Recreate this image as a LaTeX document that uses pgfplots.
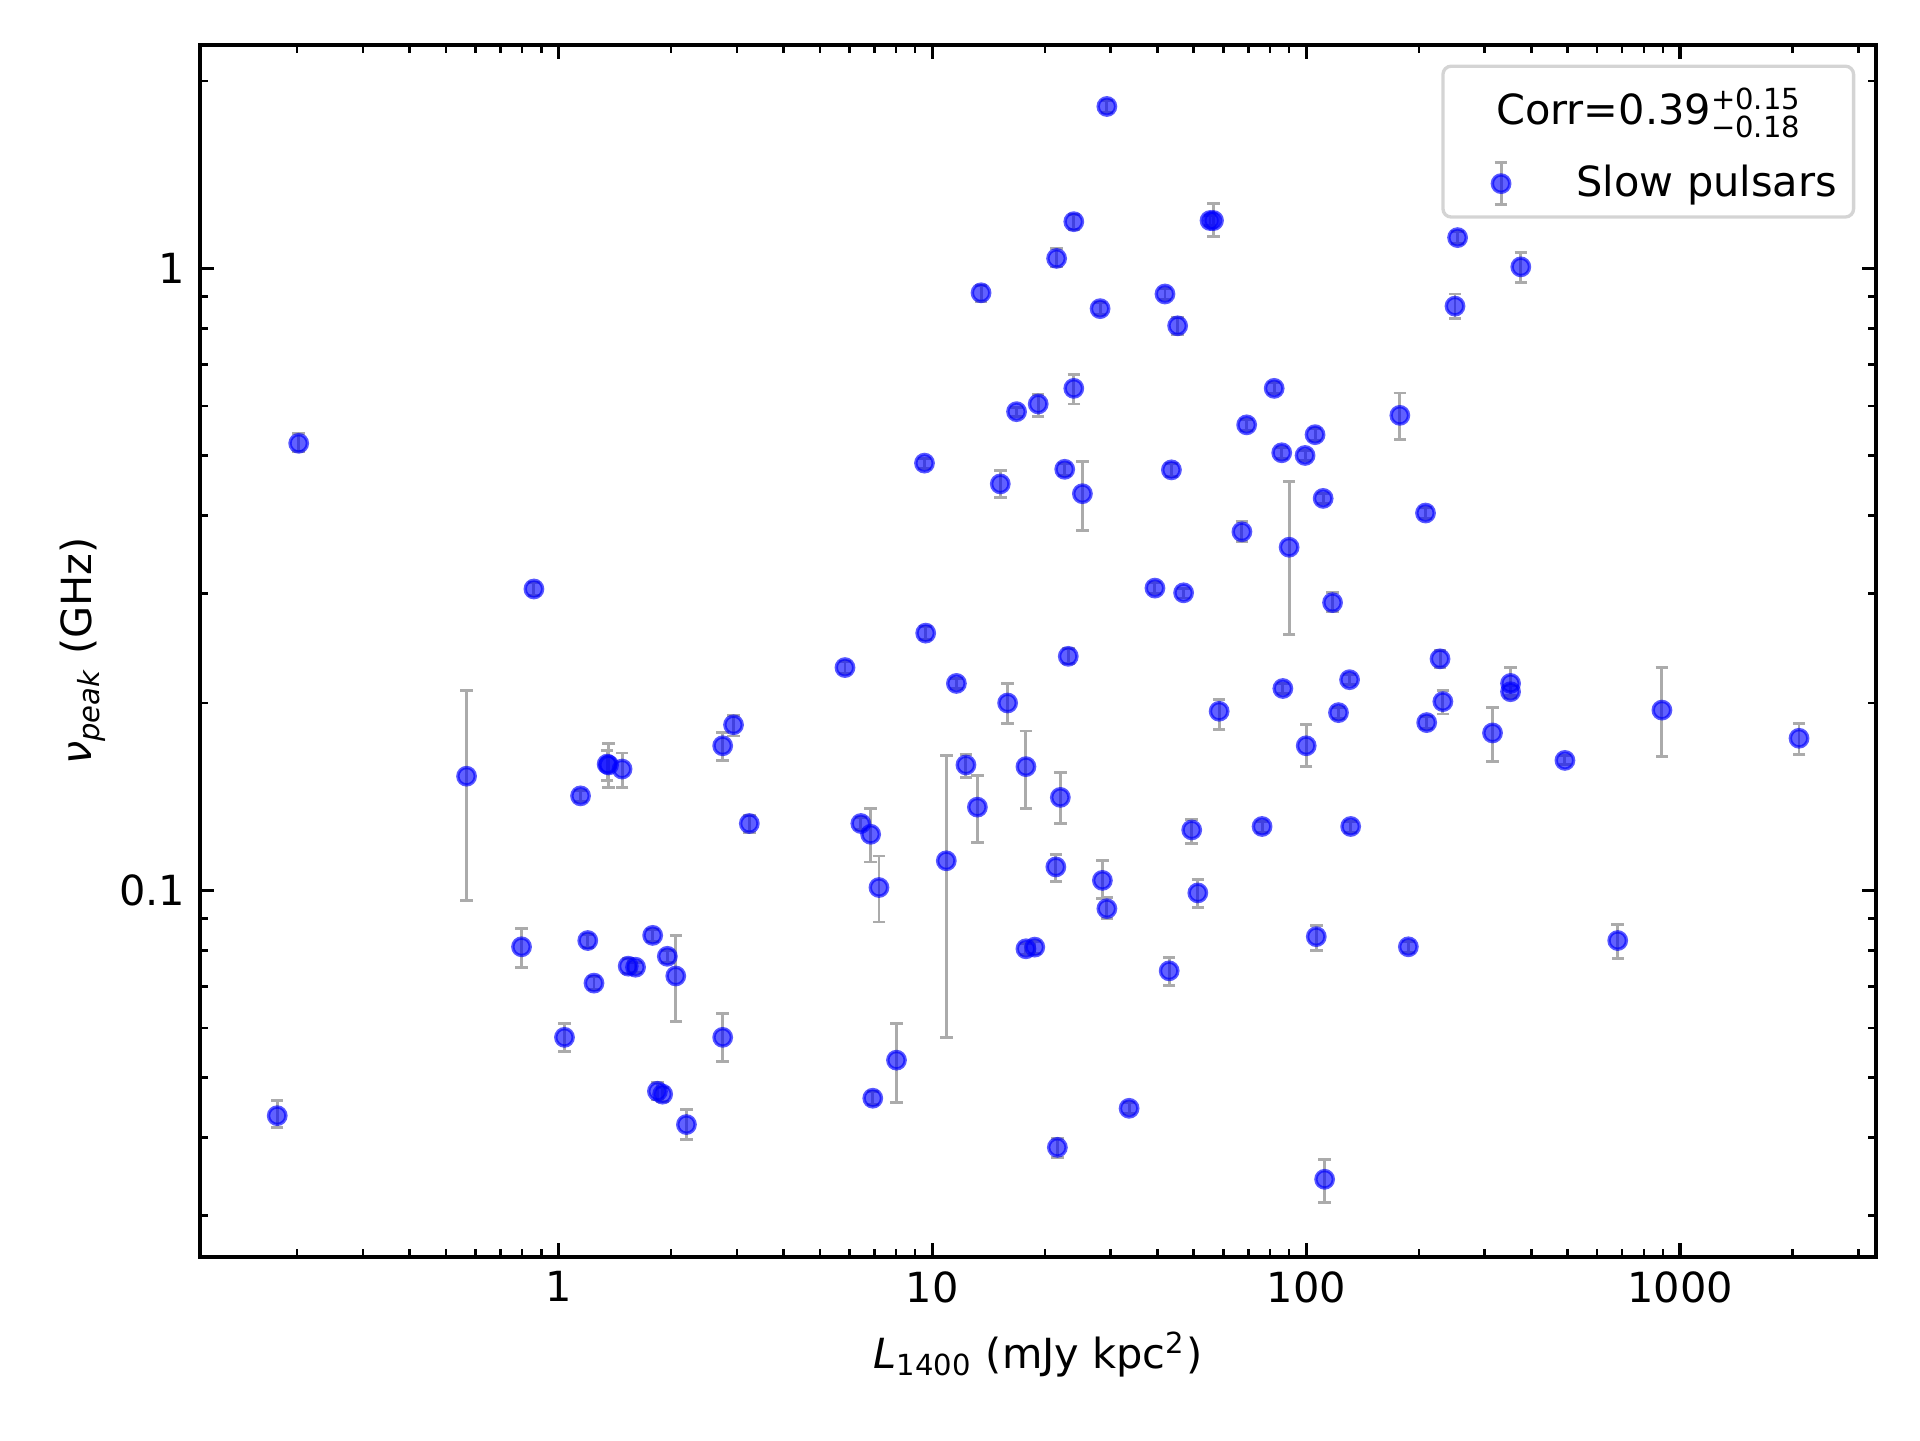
\documentclass[border=0pt]{standalone}
\usepackage{fontspec}
\setmainfont{DejaVu Sans}
\usepackage{amsmath}
\usepackage{pgfplots}
\pgfplotsset{compat=1.18}
\usepackage{pgfplotstable}
\definecolor{errgray}{HTML}{ABABAB}
\definecolor{legedge}{HTML}{D4D4D4}

\pgfplotstableread{
x y lo hi
0.177 0.0434 0.0415 0.0459
0.202 0.523 0.507 0.542
0.568 0.1525 0.0964 0.2094
0.797 0.0811 0.0752 0.0869
0.86 0.305 0.298 0.312
1.038 0.058 0.055 0.061
1.146 0.1418 0.139 0.1445
1.198 0.083 0.081 0.085
1.245 0.0709 0.0692 0.0726
1.362 0.159 0.1463 0.1722
1.35 0.1595 0.150 0.168
1.48 0.1566 0.1463 0.1662
1.537 0.0755 0.0735 0.0776
1.608 0.0752 0.0738 0.0766
1.787 0.0846 0.0826 0.0866
1.84 0.0475 0.046 0.0491
1.90 0.047 0.0458 0.0482
1.956 0.0783 0.0765 0.0801
2.06 0.0728 0.0616 0.0846
2.2 0.042 0.0397 0.0444
2.75 0.058 0.053 0.0633
2.75 0.1707 0.1617 0.1795
2.94 0.1845 0.177 0.1912
3.24 0.128 0.124 0.132
5.84 0.228 0.223 0.233
6.44 0.128 0.125 0.131
6.84 0.123 0.111 0.1355
6.93 0.0463 0.0452 0.0474
7.2 0.101 0.0889 0.1135
8.02 0.0533 0.0456 0.061
9.53 0.486 0.477 0.495
9.6 0.259 0.253 0.265
10.9 0.1115 0.058 0.1646
11.6 0.215 0.211 0.219
12.3 0.159 0.1518 0.1654
13.2 0.136 0.1193 0.1531
13.5 0.913 0.885 0.938
15.2 0.45 0.4285 0.4733
15.9 0.2 0.1852 0.2152
16.8 0.588 0.578 0.598
17.8 0.158 0.1355 0.1803
17.8 0.0805 0.0788 0.0822
18.8 0.081 0.0792 0.0828
19.2 0.605 0.578 0.627
21.5 1.037 1.0045 1.075
21.4 0.109 0.1032 0.114
22.0 0.141 0.1278 0.1545
21.6 0.0386 0.0372 0.0399
22.6 0.475 0.465 0.485
23.1 0.2377 0.2313 0.2443
23.9 0.641 0.605 0.674
23.9 1.188 1.156 1.22
25.2 0.434 0.379 0.4887
28.1 0.861 0.842 0.88
28.5 0.1037 0.0969 0.1115
29.3 1.82 1.78 1.86
29.3 0.0934 0.0901 0.0973
33.6 0.0446 0.0437 0.0456
39.4 0.306 0.3 0.312
41.9 0.909 0.89 0.928
43.0 0.0742 0.0702 0.078
43.6 0.474 0.462 0.486
45.3 0.808 0.783 0.834
47.0 0.3007 0.295 0.306
49.4 0.125 0.1188 0.13
51.3 0.099 0.0938 0.1042
55.3 1.193 1.17 1.215
56.5 1.193 1.125 1.2716
58.5 0.194 0.181 0.2028
67.3 0.377 0.364 0.3913
69.3 0.56 0.548 0.572
76.2 0.1266 0.124 0.129
82.1 0.641 0.628 0.654
86.0 0.505 0.495 0.515
86.6 0.211 0.207 0.215
90.0 0.356 0.2578 0.4545
99.3 0.5 0.49 0.51
100 0.1707 0.158 0.1845
105.6 0.54 0.528 0.552
106.4 0.0842 0.0801 0.0877
111 0.4265 0.418 0.435
112 0.0343 0.0315 0.0369
117.6 0.29 0.281 0.3007
122 0.193 0.189 0.197
130.6 0.218 0.214 0.222
131.5 0.1266 0.124 0.129
178 0.58 0.53 0.63
187.6 0.0811 0.0795 0.0827
208.5 0.404 0.396 0.412
210 0.186 0.182 0.19
228 0.2355 0.228 0.243
232 0.201 0.192 0.2094
250 0.869 0.83 0.909
254 1.12 1.095 1.145
315 0.179 0.161 0.1965
352 0.215 0.2056 0.228
352 0.2085 0.204 0.213
375 1.005 0.947 1.061
492 0.1617 0.159 0.1645
681 0.083 0.0776 0.088
894 0.1948 0.164 0.228
2080 0.1755 0.1654 0.1852
}\data

\begin{document}
\begin{tikzpicture}
\useasboundingbox (-0.6667in,-0.61in) rectangle (5.7333in,4.19in);
\begin{axis}[
  scale only axis,
  width=5.5867in, height=4.04in,
  xmode=log, ymode=log,
  xmin=0.11, xmax=3342, ymin=0.02572, ymax=2.285,
  xtick={1,10,100,1000}, xticklabels={1,10,100,1000},
  ytick={0.1,1}, yticklabels={0.1,1},
  minor xtick={0.2,0.3,0.4,0.5,0.6,0.7,0.8,0.9,2,3,4,5,6,7,8,9,20,30,40,50,60,70,80,90,200,300,400,500,600,700,800,900,2000,3000},
  minor ytick={0.03,0.04,0.05,0.06,0.07,0.08,0.09,0.2,0.3,0.4,0.5,0.6,0.7,0.8,0.9,2},
  /pgf/number format/assume math mode=true,
  tick align=inside,
  major tick length=3.5pt, minor tick length=2pt,
  major tick style={line width=0.8pt, black},
  minor tick style={line width=0.6pt, black},
  axis line style={line width=0.8pt},
  xlabel={\textit{L}\textsubscript{1400} (mJy kpc\textsuperscript{2})},
  ylabel={\textit{ν}\textsubscript{\textit{peak}} (GHz)},
  ylabel shift=-3.6pt,
  legend cell align=left,
  legend style={at={(1,1)}, anchor=north east, xshift=-5pt, yshift=-4.7pt,
    draw=legedge, line width=0.8pt, rounded corners=2pt, fill=white,
    inner xsep=2pt, inner ysep=1.5pt, row sep=5pt},
]
\addlegendimage{legend image code/.code={%
    \path[draw=none, fill=none] (-12pt,-1.3pt) rectangle (16.2pt,12.5pt);
    \node[overlay, anchor=base west, inner sep=0pt] at (-1.6pt,0pt) {Corr=0.39$^{\text{+0.15}}_{\text{−0.18}}$};
  }}
\addlegendentry{}

\addplot[draw=none, mark=none, forget plot,
  error bars/.cd, y dir=both, y explicit,
  error bar style={draw=errgray, line width=0.7pt},
  error mark options={draw=errgray, line width=0.7pt, mark size=1.5pt, rotate=90}]
  table[x=x, y=y, y error plus expr={\thisrow{hi}-\thisrow{y}}, y error minus expr={\thisrow{y}-\thisrow{lo}}] {\data};

\addplot[only marks, mark=*, mark size=2.1pt,
  mark options={draw=blue, fill=blue, line width=0.8pt, draw opacity=0.65, fill opacity=0.62},
  legend image code/.code={%
    \path[draw=none, fill=none] (-12pt,-6.5pt) rectangle (16.2pt,0pt);
    \draw[draw=errgray, line width=0.7pt] (0pt,-5pt) -- (0pt,5pt) (-1.5pt,-5pt) -- (1.5pt,-5pt) (-1.5pt,5pt) -- (1.5pt,5pt);
    \draw[draw=blue, line width=0.8pt, draw opacity=0.65, fill=blue, fill opacity=0.62] (0pt,0pt) circle[radius=2.1pt];
  }]
  table[x=x, y=y] {\data};
\addlegendentry{Slow pulsars}
\end{axis}
\end{tikzpicture}
\end{document}
